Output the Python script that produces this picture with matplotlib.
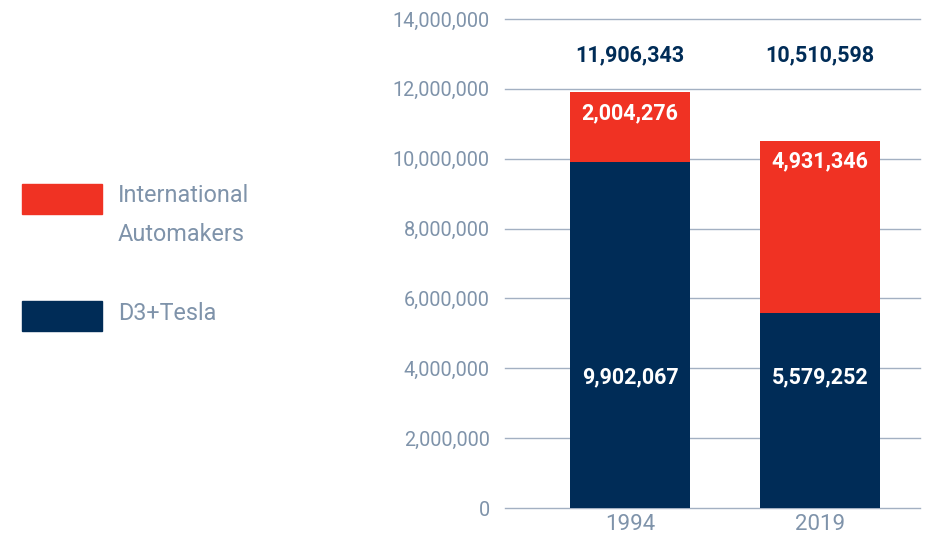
import matplotlib.pyplot as plt
from matplotlib.patches import Rectangle

years = ["1994", "2019"]
d3_tesla = [9902067, 5579252]
international = [2004276, 4931346]
totals = [11906343, 10510598]
series_names = ["International\nAutomakers", "D3+Tesla"]

red = "#F03223"
navy = "#002C57"
grey = "#7F93AA"
grid = "#A3B0C2"

plt.rcParams['font.family'] = ['Roboto', 'DejaVu Sans']

fig = plt.figure(figsize=(9.39, 5.36), dpi=100)
ax = fig.add_axes([0.5378, 0.0522, 0.442, 0.9123])

x = range(len(years))
ax.bar(x, d3_tesla, width=0.63, color=navy, zorder=3)
ax.bar(x, international, width=0.63, bottom=d3_tesla, color=red, zorder=3)

ax.set_ylim(0, 14000000)
ax.set_xlim(-0.658, 1.526)
ax.set_yticks(range(0, 14000001, 2000000))
ax.set_yticklabels(["{:,}".format(v) for v in range(0, 14000001, 2000000)])
ax.set_xticks(list(x))
ax.set_xticklabels(years)
ax.yaxis.grid(True, color=grid, lw=1, zorder=0)
for line in ax.get_ygridlines():
    line.set_clip_on(False)
for s in ax.spines.values():
    s.set_visible(False)
ax.tick_params(length=0, colors=grey)
ax.tick_params(axis='y', pad=11, labelsize=14.3)
ax.tick_params(axis='x', pad=4, labelsize=16)

for i in x:
    ax.text(i, 3750000, "{:,}".format(d3_tesla[i]), ha='center', va='center',
            color='white', fontsize=15.5, fontweight='bold')
    ax.annotate("{:,}".format(international[i]), (i, totals[i]), xytext=(0, -15),
                textcoords='offset points', ha='center', va='center',
                color='white', fontsize=15.5, fontweight='bold')
    ax.text(i, 12950000, "{:,}".format(totals[i]), ha='center', va='center',
            color=navy, fontsize=15.5, fontweight='bold')

# legend
fig.add_artist(Rectangle((22 / 939, 1 - 214 / 536), 80 / 939, 30 / 536,
                         transform=fig.transFigure, color=red))
fig.add_artist(Rectangle((22 / 939, 1 - 331 / 536), 80 / 939, 30 / 536,
                         transform=fig.transFigure, color=navy))
fig.text(118 / 939, 1 - 215 / 536, series_names[0], color=grey, fontsize=16.8,
         va='center', linespacing=1.85)
fig.text(118 / 939, 1 - 313 / 536, series_names[1], color=grey, fontsize=16.8,
         va='center')

fig.savefig("out.png", dpi=100)
